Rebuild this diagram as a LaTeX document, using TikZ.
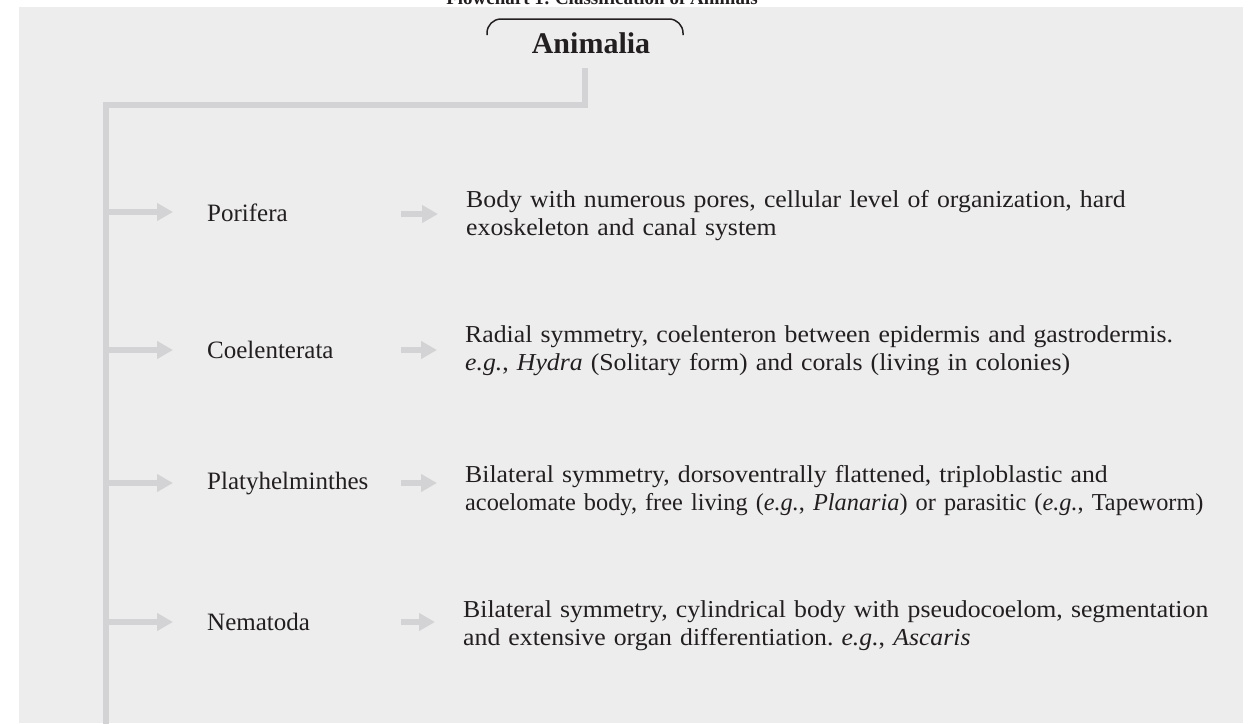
\documentclass[tikz,border=0pt]{standalone}
\usepackage{fontspec}
\setmainfont{Liberation Serif}
\newfontfamily\descfont{Liberation Serif}[FakeStretch=1.06]
\newfontfamily\descnarrow{Liberation Serif}[FakeStretch=1.0]
\usetikzlibrary{arrows.meta}
\definecolor{panel}{HTML}{EDEDED}
\definecolor{branch}{HTML}{D3D3D5}
\definecolor{ink}{HTML}{231F20}
\frenchspacing
\begin{document}
\begin{tikzpicture}[x=1pt,y=-1pt,
  trunk/.style={draw=branch,line width=6pt,line join=miter},
  branchArrow/.style={draw=branch,line width=6pt,-{Triangle[length=16pt,width=17pt]}},
  phylum/.style={anchor=base west,inner sep=0pt,text=ink,font=\fontsize{25}{30}\selectfont},
  desc/.style={anchor=base west,inner sep=0pt,text=ink,align=left,text width=900pt,font=\descfont\fontsize{24.3}{28.5}\selectfont}]
\useasboundingbox (0,0) rectangle (1253,723);
\fill[white] (0,0) rectangle (1253,723);
\fill[panel] (19,7) rectangle (1243,723);
\begin{scope}
\clip (0,0) rectangle (1253,723);
\node[anchor=base,inner sep=0pt,text=ink,font=\bfseries\fontsize{19}{22}\selectfont] (title) at (602,4) {Flowchart 1: Classification of Animals};
\end{scope}
% root
\node[anchor=base,inner sep=0pt,text=ink,font=\bfseries\fontsize{30}{34}\selectfont] (root) at (591,53) {Animalia};
\draw[ink,line width=1.5pt,rounded corners=14pt] (487,35) -- (487,19) -- (683,19) -- (683,35);
% trunk
\coordinate (stub) at (585,68);
\coordinate (corner) at (106,105);
\coordinate (bottom) at (106,730);
\draw[trunk] (stub) -- (stub |- corner) -- (corner) -- (bottom);
% phyla
\node[phylum] (n1) at (207,221) {Porifera};
\node[phylum] (n2) at (207,358) {Coelenterata};
\node[phylum] (n3) at (207,489) {Platyhelminthes};
\node[phylum] (n4) at (207,630) {Nematoda};
% descriptions
\node[desc] (d1) at (466,207) {Body with numerous pores, cellular level of organization, hard\\exoskeleton and canal system};
\node[desc] (d2) at (465,342) {Radial symmetry, coelenteron between epidermis and gastrodermis.\\\textit{e.g.}, \textit{Hydra} (Solitary form) and corals (living in colonies)};
\node[desc] (d3) at (465,482) {Bilateral symmetry, dorsoventrally flattened, triploblastic and\\{\descnarrow acoelomate body, free living (\textit{e.g.}, \textit{Planaria}) or parasitic (\textit{e.g.}, Tapeworm)}};
\node[desc] (d4) at (463,617) {Bilateral symmetry, cylindrical body with pseudocoelom, segmentation\\and extensive organ differentiation. \textit{e.g.}, \textit{Ascaris}};
% arrows from trunk
\coordinate (s1) at (106,212);
\coordinate (s2) at (106,350);
\coordinate (s3) at (106,483);
\coordinate (s4) at (106,622);
\foreach \i in {1,2,3,4}{
  \draw[branchArrow,shorten >=34pt] (s\i) -- (s\i -| n\i.west);
}
% arrows to descriptions
\coordinate (m1) at (401,214);
\coordinate (m2) at (401,350);
\coordinate (m3) at (401,483);
\coordinate (m4) at (401,622);
\foreach \i in {1,2,3,4}{
  \draw[branchArrow,shorten >=28pt] (m\i) -- (m\i -| d\i.west);
}
\end{tikzpicture}
\end{document}
